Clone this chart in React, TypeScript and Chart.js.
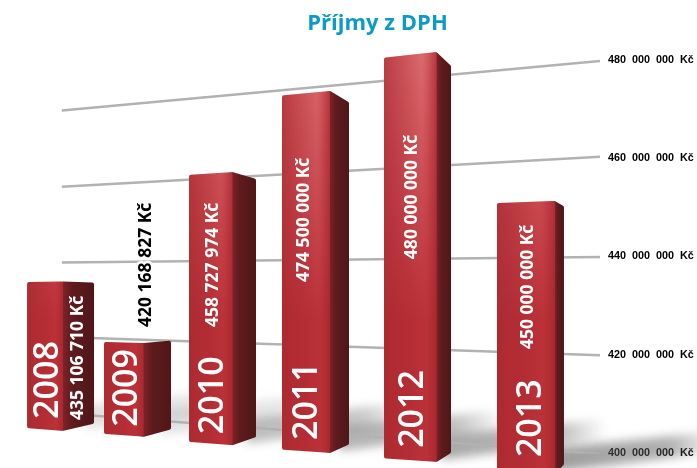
import React, { useEffect, useRef } from "react";
import { Chart, CategoryScale, registerables } from "chart.js";

const years = ["2008", "2009", "2010", "2011", "2012", "2013"];
const valueLabels = [
  "435 106 710 Kč",
  "420 168 827 Kč",
  "458 727 974 Kč",
  "474 500 000 Kč",
  "480 000 000 Kč",
  "450 000 000 Kč",
];
// Bar ends as they read against the right-hand axis, in Kč
const barTops = [434900000, 422400000, 457200000, 473700000, 481600000, 451300000];
const barBottoms = [404500000, 403300000, 401600000, 400000000, 398200000, 395700000];
const axisTicks = [400000000, 420000000, 440000000, 460000000, 480000000];
// Slanted grid lines: level at the far left and at the right end, in Kč
const gridLeft = [408100000, 423600000, 438800000, 454200000, 469700000];
const gridRight = [399800000, 419900000, 439900000, 460300000, 479800000];

// ---- layout & style (not data) ----
const W = 697;
const H = 468;
const slotCentres = [0.0047, 0.1467, 0.3035, 0.4751, 0.6633, 0.8717];
const yearDx = [31, 33, 34, 35, 39, 44];
const yearDy = [-12, -10, -11, -13, -14, -17];
const valueDx = [56, 47, 29, 27, 33, 36];
const valueDy = [138.5, -16, 155, 191, 207, 148];
const shadowStrength = [0.3, 0.3, 0.65, 0.75, 0.85, 0.95];
const HORIZON = 300;

class SlottedScale extends CategoryScale {
  static id = "slotted";
  static defaults = CategoryScale.defaults;
  getPixelForValue(value: any) {
    const i = typeof value === "number" ? value : (this as any).parse(value);
    return this.left + slotCentres[i] * this.width;
  }
}

Chart.register(...registerables, SlottedScale as any);

function sideWidth(left: number) {
  return 31 - 0.0468 * (left - 27);
}

function roundedPoly(ctx: CanvasRenderingContext2D, pts: number[][], r: number) {
  ctx.beginPath();
  const n = pts.length;
  ctx.moveTo((pts[0][0] + pts[n - 1][0]) / 2, (pts[0][1] + pts[n - 1][1]) / 2);
  for (let i = 0; i < n; i++) {
    const a = pts[i];
    const b = pts[(i + 1) % n];
    ctx.arcTo(a[0], a[1], b[0], b[1], r);
  }
  ctx.closePath();
}

const shadowPlugin = {
  id: "floorShadow",
  beforeDatasetsDraw(chart: any) {
    const ctx = chart.ctx as CanvasRenderingContext2D;
    const meta = chart.getDatasetMeta(0);
    ctx.save();
    ctx.beginPath();
    ctx.rect(0, 0, W, H);
    ctx.clip();
    ctx.filter = "blur(5px)";
    meta.data.forEach((el: any, i: number) => {
      const right = el.x + el.width / 2;
      const by = el.base;
      const k = shadowStrength[i];
      const g = ctx.createLinearGradient(right - 10, 0, right + 155, 0);
      g.addColorStop(0, `rgba(90,90,90,${0.62 * k})`);
      g.addColorStop(0.7, `rgba(90,90,90,${0.5 * k})`);
      g.addColorStop(1, "rgba(90,90,90,0)");
      ctx.fillStyle = g;
      ctx.beginPath();
      ctx.moveTo(right - 10, by - 2);
      ctx.lineTo(right - 10, by - 26);
      ctx.lineTo(right + 155, by - 43);
      ctx.lineTo(right + 155, by - 22);
      ctx.closePath();
      ctx.fill();
    });
    ctx.restore();
  },
};

const barFacePlugin = {
  id: "barFaces",
  afterDatasetsDraw(chart: any) {
    const ctx = chart.ctx as CanvasRenderingContext2D;
    const meta = chart.getDatasetMeta(0);
    meta.data.forEach((el: any, i: number) => {
      const left = el.x - el.width / 2;
      const right = el.x + el.width / 2;
      const corner = right - sideWidth(left);
      const top = el.y;
      const base = el.base;
      const rise = (y: number, k: number) => (HORIZON - y) * k;
      const frontPts = [
        [left, top + rise(top, 0.022)],
        [corner, top],
        [corner, base],
        [left, base + rise(base, 0.022)],
      ];
      const sidePts = [
        [corner - 4, top + 1],
        [corner, top],
        [right, top + rise(top, 0.055)],
        [right, base + rise(base, 0.055)],
        [corner, base],
        [corner - 4, base - 1],
      ];

      // side face
      const sg = ctx.createLinearGradient(corner, 0, right, 0);
      sg.addColorStop(0, "#7d2227");
      sg.addColorStop(0.3, "#5f1b1e");
      sg.addColorStop(1, "#4f1618");
      ctx.fillStyle = sg;
      roundedPoly(ctx, sidePts, 2);
      ctx.fill();

      // front face
      const fg = ctx.createLinearGradient(left, 0, corner, 0);
      fg.addColorStop(0, "#ad2a31");
      fg.addColorStop(0.5, "#b52d34");
      fg.addColorStop(0.8, "#bb3138");
      fg.addColorStop(1, "#a9282f");
      ctx.fillStyle = fg;
      roundedPoly(ctx, frontPts, 2);
      ctx.fill();

      // sheen that grows towards the top of the picture
      ctx.save();
      roundedPoly(ctx, frontPts, 2);
      ctx.clip();
      const hg = ctx.createLinearGradient(left, 0, corner, 0);
      hg.addColorStop(0, "rgba(255,170,170,0.25)");
      hg.addColorStop(0.72, "rgba(255,170,170,0.8)");
      hg.addColorStop(1, "rgba(255,170,170,0.2)");
      ctx.fillStyle = hg;
      for (let y = 40; y < 320; y++) {
        ctx.globalAlpha = 0.62 * (1 - (y - 40) / 280);
        ctx.fillRect(left, y, corner - left, 1);
      }
      ctx.restore();

      // year, along the bar
      ctx.save();
      ctx.translate(left + yearDx[i], base + yearDy[i]);
      ctx.rotate(-Math.PI / 2);
      ctx.fillStyle = "#ffffff";
      ctx.font = "600 34px 'Open Sans'";
      ctx.textAlign = "left";
      ctx.textBaseline = "alphabetic";
      ctx.fillText(years[i], 0, 0);
      ctx.restore();

      // amount, along the bar
      ctx.save();
      ctx.translate(left + valueDx[i], top + valueDy[i]);
      ctx.rotate(-Math.PI / 2);
      ctx.font = "700 17.5px 'Open Sans'";
      ctx.textAlign = "left";
      ctx.textBaseline = "alphabetic";
      if (i === 1) {
        ctx.strokeStyle = "#ffffff";
        ctx.lineWidth = 5;
        ctx.strokeText(valueLabels[i], 0, 0);
        ctx.fillStyle = "#000000";
      } else {
        ctx.fillStyle = "#ffffff";
      }
      ctx.fillText(valueLabels[i], 0, 0);
      ctx.restore();
    });
  },
};

export default function App() {
  const ref = useRef<HTMLCanvasElement>(null);
  useEffect(() => {
    if (!ref.current) return;
    const gridSets = gridLeft.map((l, i) => ({
      type: "line" as const,
      xAxisID: "x2",
      data: [
        { x: 0.007, y: l },
        { x: 1, y: gridRight[i] },
      ],
      borderColor: "#b2b2b2",
      borderWidth: 2.5,
      pointRadius: 0,
      tension: 0,
      order: 5,
    }));
    const chart = new Chart(ref.current, {
      type: "bar",
      data: {
        labels: years,
        datasets: [
          {
            type: "bar",
            label: "Příjmy z DPH",
            xAxisID: "x",
            data: barBottoms.map((b, i) => [b, barTops[i]]),
            backgroundColor: "rgba(0,0,0,0)",
            borderWidth: 0,
            barThickness: 67,
            grouped: false,
            clip: false,
            order: 1,
          } as any,
          ...(gridSets as any[]),
        ],
      },
      options: {
        responsive: false,
        animation: false,
        layout: { autoPadding: false, padding: { left: 58, right: 0, top: 0, bottom: 0 } },
        plugins: {
          legend: { display: false },
          tooltip: { enabled: false },
          title: {
            display: true,
            text: "Příjmy z DPH",
            color: "#0b9bc6",
            font: { family: "'Open Sans'", size: 22, weight: "bold", lineHeight: 1.2 },
            padding: { top: 11, bottom: 2.6 },
          },
        },
        scales: {
          x: { type: "slotted", display: false, grid: { display: false } } as any,
          x2: { type: "linear", display: false, min: 0, max: 1, offset: false },
          y: {
            position: "right",
            min: 399894000,
            max: 484070000,
            border: { display: false },
            grid: { display: false, drawTicks: false },
            afterBuildTicks(axis: any) {
              axis.ticks = axisTicks.map((value) => ({ value }));
            },
            afterFit(axis: any) {
              axis.width = 97;
            },
            ticks: {
              padding: 8,
              color: "#000000",
              font: { family: "'Liberation Sans'", size: 10.8, weight: "bold" },
              callback: (v: any) => `${Number(v) / 1000000}  000  000  Kč`,
            },
          },
        },
      },
      plugins: [shadowPlugin, barFacePlugin],
    } as any);
    return () => chart.destroy();
  }, []);
  return (
    <canvas
      ref={ref}
      width={W}
      height={H}
      style={{ position: "absolute", left: 0, top: 0, display: "block", background: "#ffffff" }}
    />
  );
}
